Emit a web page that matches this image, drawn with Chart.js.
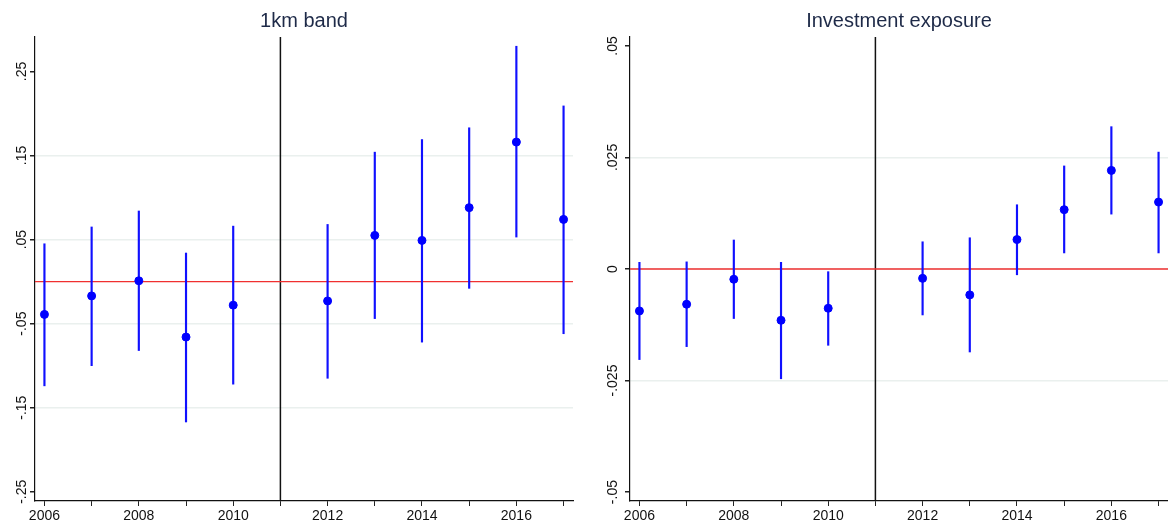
<!DOCTYPE html>
<html>
<head>
<meta charset="utf-8">
<script src="https://cdn.jsdelivr.net/npm/chart.js@4/dist/chart.umd.min.js"></script>
<style>
  html, body { margin: 0; padding: 0; background: #fff; }
  #wrap { position: relative; width: 1168px; height: 525px; overflow: hidden; }
  .panel { position: absolute; top: 0; height: 525px; }
  #p1 { left: 0; width: 584px; }
  #p2 { left: 584px; width: 584px; }
</style>
</head>
<body>
<div id="wrap">
  <div class="panel" id="p1"><canvas id="c1"></canvas></div>
  <div class="panel" id="p2"><canvas id="c2"></canvas></div>
</div>
<script>
// Event-study estimates by year (2011 is the omitted reference year)
const years = [2006, 2007, 2008, 2009, 2010, 2012, 2013, 2014, 2015, 2016, 2017];

// Panel 1: 1km band
const bandCoef = [-0.039, -0.017, 0.001, -0.066, -0.028, -0.023, 0.055, 0.049, 0.088, 0.166, 0.074];
const bandLo   = [-0.124, -0.100, -0.082, -0.167, -0.122, -0.115, -0.044, -0.072, -0.008, 0.053, -0.062];
const bandHi   = [0.045, 0.065, 0.084, 0.034, 0.066, 0.068, 0.154, 0.169, 0.183, 0.280, 0.209];

// Panel 2: Investment exposure
const expoCoef = [-0.0094, -0.0079, -0.0023, -0.0115, -0.0088, -0.0021, -0.0058, 0.0066, 0.0133, 0.0221, 0.0150];
const expoLo   = [-0.0203, -0.0174, -0.0111, -0.0246, -0.0171, -0.0103, -0.0186, -0.0013, 0.0036, 0.0123, 0.0036];
const expoHi   = [0.0015, 0.0016, 0.0065, 0.0015, -0.0006, 0.0061, 0.0070, 0.0144, 0.0231, 0.0319, 0.0262];

// Axis ticks
const xTickValues = [2006, 2007, 2008, 2009, 2010, 2011, 2012, 2013, 2014, 2015, 2016, 2017];
const xTickLabels = ['2006', '', '2008', '', '2010', '', '2012', '', '2014', '', '2016', ''];
const bandTickValues = [-0.25, -0.15, -0.05, 0.05, 0.15, 0.25];
const bandTickLabels = ['-.25', '-.15', '-.05', '.05', '.15', '.25'];
const expoTickValues = [-0.05, -0.025, 0, 0.025, 0.05];
const expoTickLabels = ['-.05', '-.025', '0', '.025', '.05'];

const titles = ['1km band', 'Investment exposure'];
const refYear = 2011;

const FONT = '"Liberation Sans", Arial, Helvetica, sans-serif';
const X_MIN = 2005.8, X_MAX = 2017.2;

function buildPanel(canvasId, cfg) {
  const pts = years.map((y, i) => ({ x: y, y: cfg.coef[i] }));
  const bars = years.map((y, i) => ({ x: y, y: [cfg.lo[i], cfg.hi[i]] }));
  const nTicks = cfg.tickValues.length;

  return new Chart(document.getElementById(canvasId), {
    type: 'bar',
    data: {
      datasets: [
        {
          type: 'scatter',
          data: pts,
          backgroundColor: '#0000ff',
          borderColor: '#0000ff',
          pointRadius: 4,
          pointHoverRadius: 4,
          order: 0
        },
        {
          type: 'bar',
          data: bars,
          backgroundColor: '#1010ff',
          borderWidth: 0,
          barThickness: 1.5,
          order: 1
        },
        {
          type: 'line',
          data: [{ x: X_MIN, y: 0 }, { x: X_MAX, y: 0 }],
          borderColor: '#f03030',
          borderWidth: 1.4,
          pointRadius: 0,
          order: 2
        },
        {
          type: 'line',
          data: [{ x: refYear, y: cfg.yMin }, { x: refYear, y: cfg.yMax }],
          borderColor: '#111111',
          borderWidth: 1.5,
          pointRadius: 0,
          order: 2
        }
      ]
    },
    options: {
      responsive: true,
      maintainAspectRatio: false,
      animation: false,
      events: [],
      layout: { autoPadding: false, padding: { left: 0, right: cfg.padRight, top: 0, bottom: 0 } },
      plugins: {
        legend: { display: false },
        tooltip: { enabled: false },
        title: {
          display: true,
          fullSize: false,
          text: cfg.title,
          color: '#1e2a48',
          font: { family: FONT, size: 20, weight: 'normal' },
          padding: { top: 9, bottom: 4 }
        }
      },
      scales: {
        x: {
          type: 'linear',
          min: X_MIN,
          max: X_MAX,
          offset: false,
          afterBuildTicks: s => { s.ticks = xTickValues.map(v => ({ value: v })); },
          afterFit: s => { s.height = 24; s.paddingLeft = 0; s.paddingRight = 0; },
          ticks: {
            autoSkip: false,
            maxRotation: 0,
            minRotation: 0,
            padding: 2,
            color: '#111',
            font: { family: FONT, size: 14 },
            callback: (v) => {
              const k = xTickValues.indexOf(v);
              return k >= 0 ? xTickLabels[k] : '';
            }
          },
          grid: {
            offset: false,
            drawOnChartArea: false,
            drawTicks: true,
            tickLength: 5,
            tickColor: '#222',
            tickWidth: 1
          },
          border: { display: true, color: '#111', width: 1.2 }
        },
        y: {
          type: 'linear',
          min: cfg.yMin,
          max: cfg.yMax,
          afterBuildTicks: s => { s.ticks = cfg.tickValues.map(v => ({ value: v })); },
          afterFit: s => { s.width = cfg.axisWidth; s.paddingTop = 0; s.paddingBottom = 0; },
          ticks: {
            autoSkip: false,
            minRotation: 90,
            maxRotation: 90,
            crossAlign: 'center',
            padding: cfg.tickPad,
            color: '#111',
            font: { family: FONT, size: 14 },
            callback: (v) => {
              const k = cfg.tickValues.findIndex(t => Math.abs(t - v) < 1e-9);
              return k >= 0 ? cfg.tickLabels[k] : '';
            }
          },
          grid: {
            offset: false,
            drawOnChartArea: true,
            drawTicks: true,
            tickLength: 5,
            tickColor: '#222',
            color: ctx => (ctx.index === 0 || ctx.index === nTicks - 1) ? 'rgba(0,0,0,0)' : '#eaf0ee',
            lineWidth: 1.5
          },
          border: { display: true, color: '#111', width: 1.2 }
        }
      }
    }
  });
}

buildPanel('c1', {
  title: titles[0],
  coef: bandCoef, lo: bandLo, hi: bandHi,
  yMin: -0.261, yMax: 0.291,
  tickValues: bandTickValues, tickLabels: bandTickLabels,
  axisWidth: 35, padRight: 11, tickPad: -4
});

buildPanel('c2', {
  title: titles[1],
  coef: expoCoef, lo: expoLo, hi: expoHi,
  yMin: -0.052, yMax: 0.052,
  tickValues: expoTickValues, tickLabels: expoTickLabels,
  axisWidth: 46, padRight: 0, tickPad: -4
});
</script>
</body>
</html>
